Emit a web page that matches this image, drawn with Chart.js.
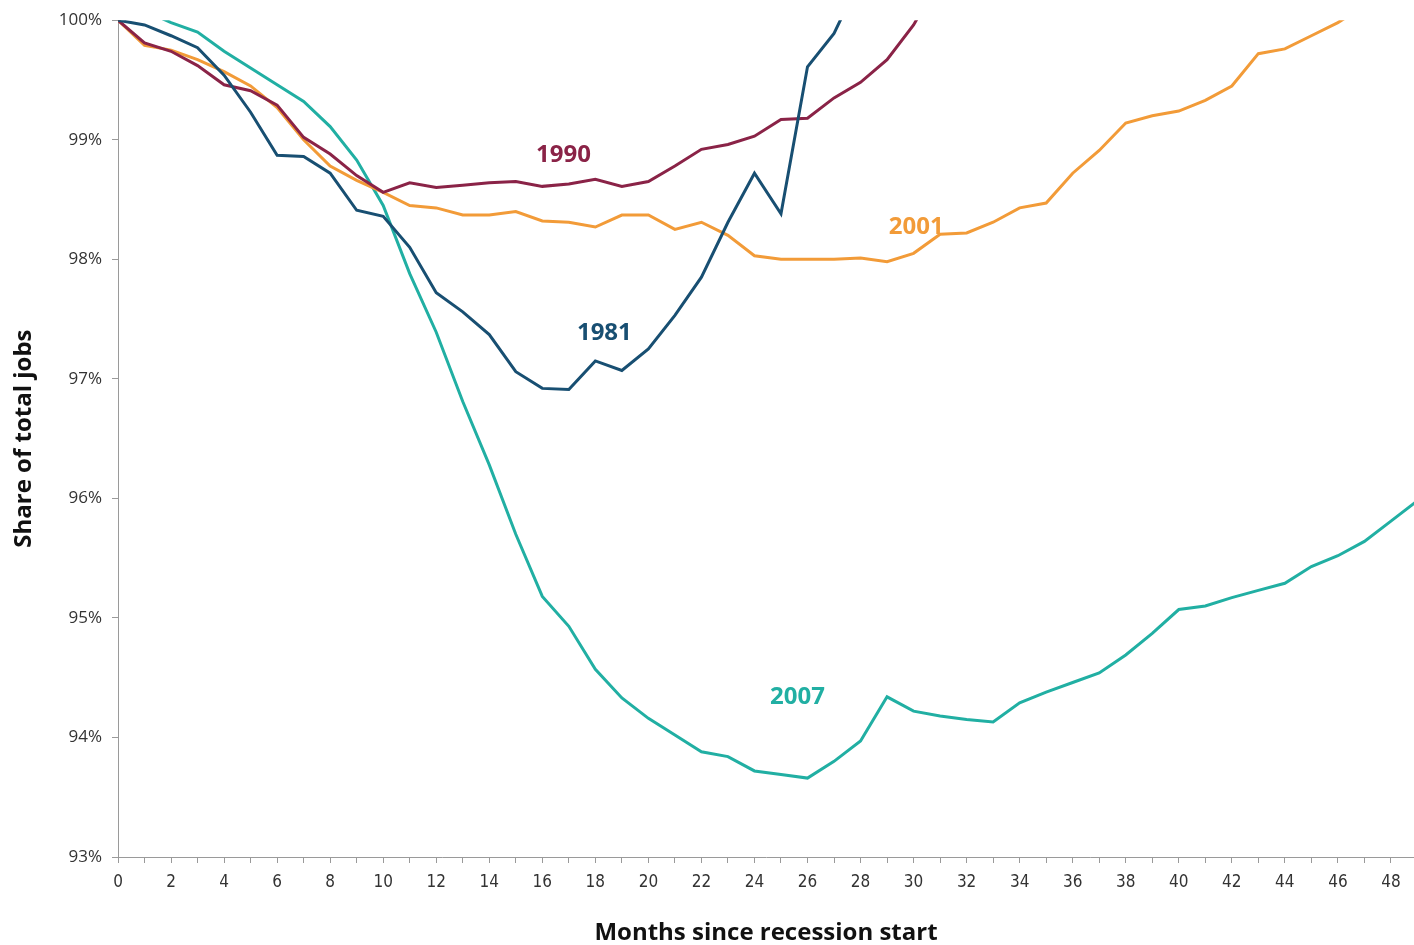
<!DOCTYPE html>
<html>
<head>
<meta charset="utf-8">
<script src="https://cdn.jsdelivr.net/npm/chart.js@4.4.1/dist/chart.umd.min.js"></script>
<style>
  html, body { margin: 0; padding: 0; background: #fff; }
  #wrap { width: 1414px; height: 945px; position: relative; }
</style>
</head>
<body>
<div id="wrap"><canvas id="c" width="1414" height="945"></canvas></div>
<script>
// Months since recession start
const months = [0,1,2,3,4,5,6,7,8,9,10,11,12,13,14,15,16,17,18,19,20,21,22,23,24,25,26,27,28,29,30,31,32,33,34,35,36,37,38,39,40,41,42,43,44,45,46,47,48,49];

// Share of total jobs (% of pre-recession level)
const r1981 = [100,99.96,99.87,99.77,99.54,99.23,98.87,98.86,98.72,98.41,98.36,98.10,97.72,97.56,97.37,97.06,96.92,96.91,97.15,97.07,97.25,97.53,97.85,98.31,98.72,98.38,99.61,99.89,100.35];
const r1990 = [100,99.81,99.74,99.62,99.46,99.41,99.29,99.02,98.88,98.70,98.56,98.64,98.60,98.62,98.64,98.65,98.61,98.63,98.67,98.61,98.65,98.78,98.92,98.96,99.03,99.17,99.18,99.35,99.48,99.67,99.96,100.35];
const r2001 = [100,99.79,99.75,99.67,99.57,99.45,99.27,99.00,98.78,98.66,98.56,98.45,98.43,98.37,98.37,98.40,98.32,98.31,98.27,98.37,98.37,98.25,98.31,98.20,98.03,98.00,98.00,98.00,98.01,97.98,98.05,98.21,98.22,98.31,98.43,98.47,98.72,98.91,99.14,99.20,99.24,99.33,99.45,99.72,99.76,99.87,99.98,100.12];
const r2007 = [100,100.08,99.98,99.90,99.74,99.60,99.46,99.32,99.11,98.83,98.45,97.88,97.39,96.81,96.28,95.70,95.18,94.93,94.57,94.33,94.16,94.02,93.88,93.84,93.72,93.69,93.66,93.80,93.97,94.34,94.22,94.18,94.15,94.13,94.29,94.38,94.46,94.54,94.69,94.87,95.07,95.10,95.17,95.23,95.29,95.43,95.52,95.64,95.81,95.98];

const seriesNames = ['1981','1990','2001','2007'];
const seriesColors = ['#184f72','#8a2347','#f29b38','#21afa3'];
const seriesValues = [r1981, r1990, r2001, r2007];
// label anchor positions in data units [month, percent]
const labelPos = [[18.34,97.38],[16.8,98.875],[30.1,98.267],[25.62,94.333]];

const yTicks = [93,94,95,96,97,98,99,100];

function toPoints(vals){ return vals.map((v,i)=>({x: months[i], y: v})); }

const labelPlugin = {
  id: 'seriesLabels',
  afterDatasetsDraw(chart){
    const {ctx, scales:{x,y}} = chart;
    ctx.save();
    ctx.font = 'bold 24px "Open Sans", "DejaVu Sans", sans-serif';
    ctx.textAlign = 'center';
    ctx.textBaseline = 'middle';
    seriesNames.forEach((n,i)=>{
      ctx.fillStyle = seriesColors[i];
      ctx.fillText(n, x.getPixelForValue(labelPos[i][0]), y.getPixelForValue(labelPos[i][1]));
    });
    ctx.restore();
  }
};

new Chart(document.getElementById('c'), {
  type: 'line',
  data: {
    datasets: seriesNames.map((n,i)=>({
      label: n,
      data: toPoints(seriesValues[i]),
      borderColor: seriesColors[i],
      backgroundColor: seriesColors[i],
      borderWidth: 3,
      pointRadius: 0,
      tension: 0,
      clip: 0
    }))
  },
  options: {
    responsive: false,
    animation: false,
    devicePixelRatio: 1,
    layout: { padding: { top: 13, right: 0, left: 0, bottom: 0 } },
    plugins: { legend: { display: false }, tooltip: { enabled: false } },
    scales: {
      x: {
        type: 'linear',
        min: 0, max: 48.87,
        afterFit(s){ s.height = 88; },
        afterBuildTicks(s){ s.ticks = months.filter(m=>m<=48).map(m=>({value:m})); },
        ticks: {
          autoSkip: false, maxRotation: 0,
          color: '#333',
          font: { family: '"Liberation Sans Narrow", "DejaVu Sans Condensed", "Open Sans", sans-serif', size: 17 },
          padding: 9,
          callback: (v)=> (v % 2 === 0 ? String(v) : '')
        },
        grid: { display: true, drawOnChartArea: false, drawTicks: true, tickLength: 6, color: '#9a9a9a', lineWidth: 1 },
        border: { display: true, color: '#9a9a9a', width: 1 },
        title: {
          display: true, text: 'Months since recession start', color: '#111',
          font: { family: '"Open Sans", "DejaVu Sans", sans-serif', size: 24, weight: 'bold', lineHeight: 1 },
          padding: { top: 0, bottom: 0 }
        }
      },
      y: {
        min: 93, max: 100,
        afterFit(s){ s.width = 118; },
        afterBuildTicks(s){ s.ticks = yTicks.map(v=>({value:v})); },
        ticks: {
          color: '#333',
          font: { family: '"Open Sans", "DejaVu Sans", sans-serif', size: 17 },
          padding: 10,
          callback: (v)=> v + '%'
        },
        grid: { display: true, drawOnChartArea: false, drawTicks: true, tickLength: 6, color: '#9a9a9a', lineWidth: 1 },
        border: { display: true, color: '#9a9a9a', width: 1 },
        title: {
          display: true, text: 'Share of total jobs', color: '#111',
          font: { family: '"Open Sans", "DejaVu Sans", sans-serif', size: 24, weight: 'bold', lineHeight: 1 },
          padding: { top: 12, bottom: 0 }
        }
      }
    }
  },
  plugins: [labelPlugin]
});
</script>
</body>
</html>
